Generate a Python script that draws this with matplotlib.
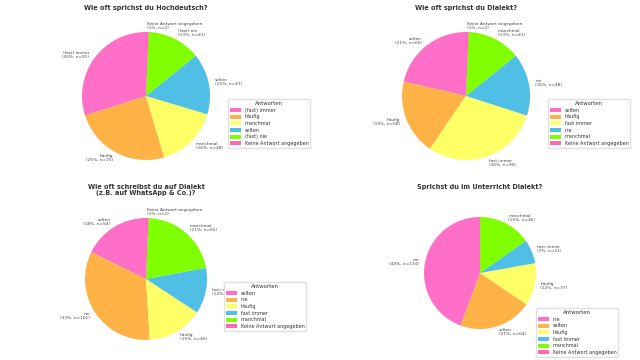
import matplotlib
matplotlib.use("Agg")
import matplotlib.pyplot as plt

# --- data -------------------------------------------------------------
hochdeutsch_labels = ["(fast) immer", "häufig", "manchmal", "selten", "(fast) nie", "Keine Antwort angegeben"]
hochdeutsch_counts = [91, 75, 48, 47, 41, 2]

dialekt_labels = ["selten", "häufig", "fast immer", "nie", "manchmal", "Keine Antwort angegeben"]
dialekt_counts = [65, 58, 90, 48, 41, 2]

schreiben_labels = ["selten", "nie", "häufig", "fast immer", "manchmal", "Keine Antwort angegeben"]
schreiben_counts = [54, 101, 45, 37, 65, 2]

unterricht_labels = ["nie", "selten", "häufig", "fast immer", "manchmal", "Keine Antwort angegeben"]
unterricht_counts = [134, 64, 37, 21, 46, 0]

titles = [
    "Wie oft sprichst du Hochdeutsch?",
    "Wie oft sprichst du Dialekt?",
    "Wie oft schreibst du auf Dialekt\n(z.B. auf WhatsApp & Co.)?",
    "Sprichst du im Unterricht Dialekt?",
]

colors = ["#FF6EC7", "#FFB347", "#FFFF66", "#4FBFE6", "#80FF00", "#FF69B4"]

# --- layout (pixel centres / radii of each pie, legend corners, titles) ---
W, H = 640, 360
pies = [(146, 96, 64), (466, 96, 64), (146, 279, 61), (480, 273, 56)]
legend_pos = [(228, 99), (548, 99), (224, 282), (536, 308)]
title_pos = [(146, 8), (466, 8), (146, 190), (480, 187)]

datasets = [
    (hochdeutsch_labels, hochdeutsch_counts),
    (dialekt_labels, dialekt_counts),
    (schreiben_labels, schreiben_counts),
    (unterricht_labels, unterricht_counts),
]

fig = plt.figure(figsize=(6.4, 3.6), dpi=100)

for i, (labels, counts) in enumerate(datasets):
    cx, cy, r = pies[i]
    half = 1.25 * r
    ax = fig.add_axes([(cx - half) / W, 1 - (cy + half) / H, 2 * half / W, 2 * half / H])
    total = sum(counts)
    texts = []
    for lab, n in zip(labels, counts):
        if n == 0:
            texts.append("")
        else:
            texts.append(f"{lab}\n({n / total * 100:.0f}%, n={n})")
    ax.pie(counts, labels=texts, colors=colors, startangle=90, counterclock=True,
           labeldistance=1.1,
           textprops={"fontsize": 3.1, "color": "#444444", "linespacing": 1.0})
    ax.set_xlim(-1.25, 1.25)
    ax.set_ylim(-1.25, 1.25)
    ax.set_aspect("equal")

    lx, ly = legend_pos[i]
    leg = ax.legend(labels, title="Antworten", loc="upper left",
                    bbox_to_anchor=(lx / W, 1 - ly / H), bbox_transform=fig.transFigure,
                    fontsize=3.5, title_fontsize=3.9, borderaxespad=0,
                    handlelength=2.2, handleheight=0.9, labelspacing=0.35,
                    framealpha=0.9, edgecolor="#dddddd", fancybox=True)
    for t in leg.get_texts():
        t.set_color("#333333")
    leg.get_title().set_color("#333333")

    tx, ty = title_pos[i]
    fig.text(tx / W, 1 - ty / H, titles[i], ha="center", va="center",
             fontsize=4.7, fontweight="bold", color="#333333", linespacing=1.1)

fig.savefig("out.png", dpi=100)
